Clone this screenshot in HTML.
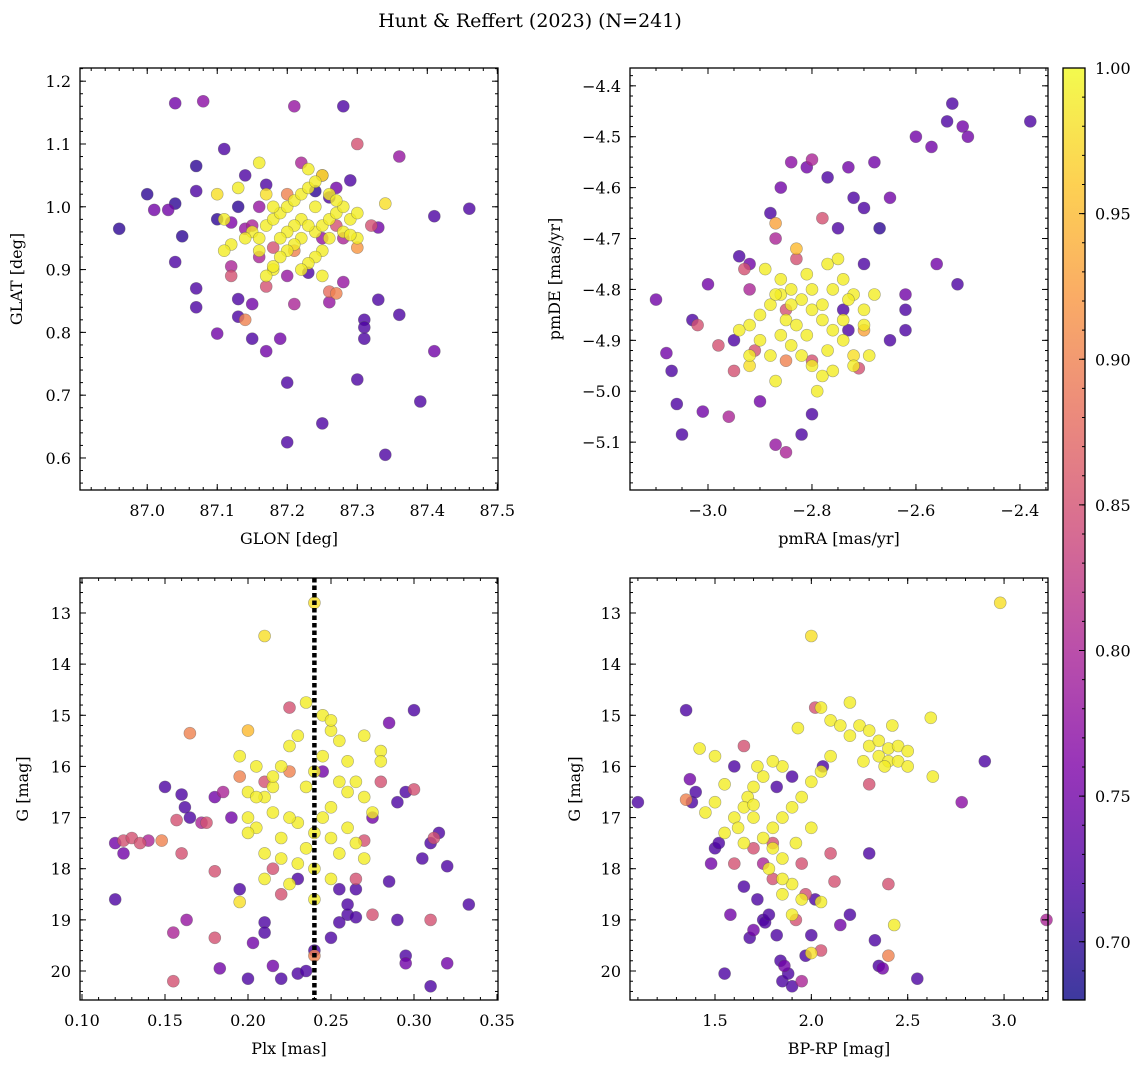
<!DOCTYPE html>
<html><head><meta charset="utf-8"><style>
html,body{margin:0;padding:0;background:#fff}
svg{display:block;font-family:"DejaVu Serif","Liberation Serif",serif}
</style></head><body>
<svg id="fig" width="1148" height="1067" viewBox="0 0 1148 1067" xmlns="http://www.w3.org/2000/svg">
<defs>
<linearGradient id="cbg" x1="0" y1="1" x2="0" y2="0">
<stop offset="0" stop-color="#0d0887"/><stop offset="0.125" stop-color="#4c02a1"/><stop offset="0.25" stop-color="#7e03a8"/><stop offset="0.375" stop-color="#a92395"/><stop offset="0.5" stop-color="#cc4778"/><stop offset="0.625" stop-color="#e66c5c"/><stop offset="0.75" stop-color="#f89540"/><stop offset="0.875" stop-color="#fdc527"/><stop offset="1" stop-color="#f0f921"/>
</linearGradient>
</defs>
<text x="530" y="27" font-size="19" text-anchor="middle">Hunt &amp; Reffert (2023) (N=241)</text>
</svg>
<script>
// ---- data: [x, y, membership probability] ----
const skyPoints = [
[86.96,0.965,0.7],[87.0,1.02,0.7],[87.01,0.995,0.75],[87.03,0.995,0.75],[87.04,1.005,0.7],[87.04,1.165,0.75],[87.05,0.953,0.7],[87.04,0.912,0.72],[87.07,1.065,0.7],[87.08,1.168,0.77],[87.07,1.025,0.72],[87.07,0.87,0.72],[87.07,0.84,0.72],[87.11,1.092,0.72],[87.10,0.98,0.7],[87.10,0.798,0.75],[87.12,0.905,0.8],[87.13,0.825,0.72],[87.13,0.853,0.72],[87.14,0.82,0.9],[87.15,0.79,0.72],[87.15,0.845,0.75],[87.17,0.77,0.75],[87.19,0.79,0.75],[87.2,0.72,0.72],[87.2,0.625,0.72],[87.21,1.16,0.78],[87.25,0.655,0.72],[87.28,1.16,0.72],[87.29,1.042,0.72],[87.3,1.1,0.85],[87.3,0.725,0.72],[87.31,0.82,0.72],[87.31,0.808,0.72],[87.31,0.79,0.72],[87.33,0.852,0.72],[87.34,0.605,0.72],[87.36,1.08,0.78],[87.36,0.828,0.72],[87.39,0.69,0.72],[87.41,0.985,0.72],[87.41,0.77,0.75],[87.46,0.997,0.72],[87.26,0.848,0.78],[87.26,0.865,0.88],[87.27,0.862,0.9],[87.17,0.873,0.85],[87.21,0.845,0.8],[87.28,0.88,0.78],[87.32,0.97,0.85],[87.33,0.967,0.75],[87.3,0.935,0.92],
[87.14,1.05,0.72],[87.17,1.035,0.72],[87.2,1.02,0.9],[87.22,1.07,0.8],[87.25,1.05,0.85],[87.16,1.0,0.78],[87.15,0.97,0.8],[87.14,0.965,0.78],[87.12,0.975,0.76],[87.26,1.015,0.72],[87.27,0.97,0.85],[87.2,0.89,0.78],[87.23,0.895,0.72],[87.28,0.95,0.8],[87.21,0.93,0.9],[87.18,0.935,0.85],[87.24,1.025,0.7],[87.27,1.03,0.75],[87.13,1.0,0.7],[87.12,0.89,0.85],[87.16,0.92,0.8],[87.25,0.95,0.78],
[87.15,0.96,0.99],[87.16,0.95,0.99],[87.17,0.97,0.99],[87.18,0.98,0.99],[87.19,0.99,0.99],[87.2,1.0,0.99],[87.21,1.01,0.99],[87.22,1.02,0.99],[87.23,1.03,0.99],[87.24,1.04,0.99],[87.25,1.05,0.98],[87.23,1.06,0.99],[87.22,0.95,0.99],[87.21,0.94,0.99],[87.2,0.93,0.99],[87.19,0.92,0.99],[87.18,0.9,0.99],[87.17,0.89,0.99],[87.16,0.93,0.99],[87.24,0.96,0.99],[87.25,0.97,0.99],[87.26,0.98,0.99],[87.27,0.99,0.99],[87.28,1.0,0.99],[87.29,0.98,0.99],[87.26,0.95,0.99],[87.25,0.93,0.99],[87.24,0.92,0.99],[87.23,0.91,0.99],[87.22,0.98,0.99],[87.21,0.97,0.99],[87.2,0.96,0.99],[87.19,0.95,0.99],[87.18,1.0,0.99],[87.17,1.02,0.98],[87.16,1.07,0.99],[87.13,1.03,0.99],[87.12,0.94,0.99],[87.11,0.93,0.99],[87.1,1.02,0.98],[87.11,0.98,0.99],[87.14,0.95,0.99],[87.26,1.02,0.99],[87.27,1.01,0.99],[87.28,0.96,0.99],[87.3,0.99,0.99],[87.34,1.005,0.98],[87.3,0.95,0.99],[87.23,0.97,0.99],[87.24,1.0,0.99],[87.18,0.905,0.99],[87.22,0.9,0.99],[87.29,0.955,0.99],[87.25,0.89,0.99]
];
const pmPoints = [
[-3.1,-4.82,0.75],[-3.08,-4.925,0.75],[-3.07,-4.96,0.72],[-3.06,-5.025,0.72],[-3.05,-5.085,0.72],[-3.03,-4.86,0.72],[-3.02,-4.87,0.85],[-3.01,-5.04,0.75],[-3.0,-4.79,0.75],[-2.98,-4.91,0.85],[-2.96,-5.05,0.8],[-2.95,-4.9,0.72],[-2.94,-4.735,0.72],[-2.92,-4.75,0.75],[-2.92,-4.8,0.8],[-2.91,-4.92,0.85],[-2.9,-5.02,0.75],[-2.88,-4.65,0.72],[-2.87,-4.7,0.8],[-2.86,-4.6,0.75],[-2.87,-5.105,0.78],[-2.85,-5.12,0.8],[-2.84,-4.55,0.77],[-2.81,-4.56,0.75],[-2.8,-4.545,0.8],[-2.8,-5.045,0.72],[-2.82,-5.085,0.72],[-2.77,-4.58,0.72],[-2.75,-4.68,0.72],[-2.73,-4.56,0.75],[-2.72,-4.62,0.72],[-2.7,-4.64,0.72],[-2.68,-4.55,0.75],[-2.67,-4.68,0.7],[-2.65,-4.62,0.75],[-2.62,-4.81,0.75],[-2.62,-4.84,0.72],[-2.62,-4.88,0.72],[-2.65,-4.9,0.72],[-2.6,-4.5,0.75],[-2.57,-4.52,0.75],[-2.54,-4.47,0.72],[-2.53,-4.435,0.72],[-2.51,-4.48,0.75],[-2.5,-4.5,0.75],[-2.38,-4.47,0.72],[-2.56,-4.75,0.75],[-2.52,-4.79,0.72],[-2.7,-4.75,0.72],[-2.74,-4.84,0.72],[-2.73,-4.88,0.72],[-2.71,-4.955,0.85],[-2.78,-4.66,0.85],[-2.87,-4.67,0.93],[-2.83,-4.74,0.85],[-2.95,-4.96,0.85],[-2.8,-4.94,0.85],
[-2.93,-4.76,0.85],[-2.85,-4.84,0.85],[-2.7,-4.88,0.93],[-2.83,-4.72,0.95],[-2.85,-4.94,0.9],
[-2.92,-4.87,0.99],[-2.9,-4.85,0.99],[-2.88,-4.83,0.99],[-2.86,-4.81,0.99],[-2.84,-4.8,0.99],[-2.82,-4.82,0.99],[-2.8,-4.84,0.99],[-2.78,-4.86,0.99],[-2.76,-4.88,0.99],[-2.74,-4.9,0.99],[-2.72,-4.93,0.98],[-2.86,-4.89,0.99],[-2.84,-4.91,0.99],[-2.82,-4.93,0.99],[-2.8,-4.95,0.99],[-2.78,-4.97,0.99],[-2.76,-4.8,0.99],[-2.74,-4.78,0.99],[-2.72,-4.81,0.99],[-2.7,-4.84,0.99],[-2.7,-4.87,0.99],[-2.88,-4.93,0.99],[-2.9,-4.9,0.99],[-2.92,-4.93,0.99],[-2.94,-4.88,0.99],[-2.86,-4.78,0.99],[-2.84,-4.83,0.99],[-2.8,-4.8,0.99],[-2.78,-4.83,0.99],[-2.77,-4.75,0.99],[-2.75,-4.74,0.99],[-2.77,-4.92,0.99],[-2.79,-5.0,0.99],[-2.81,-4.89,0.99],[-2.85,-4.86,0.99],[-2.83,-4.87,0.99],[-2.87,-4.98,0.99],[-2.76,-4.96,0.99],[-2.74,-4.86,0.99],[-2.81,-4.77,0.99],[-2.92,-4.95,0.98],[-2.89,-4.76,0.99],[-2.87,-4.81,0.99],[-2.73,-4.82,0.99],[-2.68,-4.81,0.99],[-2.69,-4.93,0.99],[-2.72,-4.95,0.99]
];
const plxPoints = [
[0.12,18.6,0.72],[0.12,17.5,0.75],[0.125,17.7,0.75],[0.125,17.45,0.85],[0.13,17.4,0.85],[0.135,17.5,0.85],[0.14,17.45,0.8],[0.148,17.45,0.9],[0.15,16.4,0.72],[0.155,19.25,0.8],[0.155,20.2,0.85],[0.157,17.05,0.85],[0.16,16.55,0.72],[0.162,16.8,0.72],[0.16,17.7,0.85],[0.163,19.0,0.78],[0.165,15.35,0.9],[0.165,17.0,0.72],[0.172,17.1,0.8],[0.175,17.1,0.85],[0.18,18.05,0.85],[0.18,19.35,0.85],[0.183,19.95,0.75],[0.18,16.6,0.75],[0.185,16.5,0.8],[0.19,17.0,0.75],[0.195,18.4,0.72],[0.2,15.3,0.95],[0.2,20.15,0.72],[0.203,19.45,0.75],[0.21,13.45,0.98],[0.21,19.05,0.72],[0.21,19.25,0.72],[0.215,19.9,0.75],[0.22,20.15,0.72],[0.225,14.85,0.85],[0.23,20.05,0.72],[0.235,20.0,0.72],[0.24,12.8,0.98],[0.24,19.7,0.9],[0.24,19.6,0.72],[0.245,16.1,0.75],[0.25,19.35,0.72],[0.255,18.4,0.72],[0.26,18.9,0.72],[0.265,18.95,0.72],[0.265,18.2,0.85],[0.27,17.45,0.85],[0.275,17.0,0.75],[0.28,16.3,0.85],[0.285,18.25,0.72],[0.285,15.15,0.75],[0.29,16.7,0.72],[0.29,19.0,0.72],[0.295,16.5,0.72],[0.295,19.7,0.72],[0.295,19.85,0.75],[0.3,14.9,0.72],[0.305,17.8,0.72],[0.31,17.5,0.72],[0.312,17.4,0.85],[0.31,19.0,0.85],[0.31,20.3,0.72],[0.315,17.3,0.72],[0.32,17.95,0.72],[0.32,19.85,0.75],[0.333,18.7,0.72],[0.3,16.45,0.85],[0.255,19.05,0.72],[0.26,18.7,0.72],[0.275,18.9,0.85],[0.265,18.4,0.72],[0.22,18.5,0.85],[0.215,18.0,0.85],[0.23,18.2,0.72],[0.21,16.3,0.85],[0.225,16.1,0.9],[0.195,16.2,0.9],
[0.195,15.8,0.99],[0.2,16.5,0.99],[0.205,17.2,0.99],[0.21,17.7,0.99],[0.215,16.4,0.99],[0.22,16.0,0.99],[0.225,15.6,0.99],[0.23,15.4,0.99],[0.235,14.75,0.99],[0.245,15.0,0.99],[0.25,15.3,0.99],[0.255,15.5,0.99],[0.26,15.9,0.99],[0.265,16.3,0.99],[0.27,16.6,0.99],[0.275,16.9,0.99],[0.25,16.8,0.99],[0.245,17.0,0.99],[0.24,17.3,0.99],[0.235,17.6,0.99],[0.23,17.1,0.99],[0.225,17.0,0.99],[0.22,17.4,0.99],[0.215,16.9,0.99],[0.21,16.6,0.99],[0.205,16.0,0.99],[0.2,17.0,0.99],[0.2,17.3,0.99],[0.195,18.65,0.98],[0.21,18.2,0.99],[0.225,18.3,0.99],[0.23,17.9,0.99],[0.24,18.0,0.99],[0.25,18.2,0.99],[0.255,17.7,0.99],[0.26,17.2,0.99],[0.265,17.5,0.99],[0.27,17.8,0.99],[0.28,15.7,0.99],[0.28,15.9,0.99],[0.27,15.4,0.99],[0.255,16.3,0.99],[0.26,16.5,0.99],[0.25,17.4,0.99],[0.245,15.8,0.99],[0.24,16.1,0.99],[0.235,16.4,0.99],[0.22,17.8,0.99],[0.215,16.2,0.99],[0.205,16.6,0.99],[0.25,15.1,0.99],[0.24,18.6,0.99]
];
const cmdPoints = [
[1.1,16.7,0.72],[1.35,14.9,0.72],[1.37,16.25,0.75],[1.38,16.7,0.72],[1.4,16.5,0.72],[1.35,16.65,0.9],[1.48,17.9,0.75],[1.5,17.6,0.72],[1.52,17.5,0.72],[1.55,20.05,0.72],[1.58,18.9,0.75],[1.6,17.9,0.85],[1.65,18.35,0.72],[1.68,19.35,0.72],[1.7,19.2,0.75],[1.72,18.6,0.72],[1.75,19.0,0.72],[1.76,19.05,0.72],[1.78,18.9,0.72],[1.8,18.2,0.85],[1.82,19.3,0.72],[1.84,19.8,0.72],[1.85,20.2,0.72],[1.86,19.9,0.75],[1.88,20.05,0.72],[1.9,20.3,0.72],[1.92,19.0,0.85],[1.95,20.2,0.8],[1.97,19.7,0.72],[2.0,19.3,0.72],[2.02,18.6,0.72],[2.05,19.6,0.85],[2.1,17.7,0.85],[2.12,18.25,0.85],[2.15,19.1,0.75],[2.2,18.9,0.72],[2.3,17.7,0.72],[2.33,19.4,0.72],[2.35,19.9,0.72],[2.37,19.95,0.75],[2.4,18.3,0.85],[2.4,19.7,0.9],[2.55,20.15,0.72],[2.9,15.9,0.72],[2.78,16.7,0.77],[3.22,19.0,0.8],[2.02,14.85,0.85],[1.65,15.6,0.85],[1.6,16.0,0.72],[1.82,16.4,0.72],[1.9,16.2,0.72],[2.06,16.0,0.72],[2.3,16.35,0.85],[1.7,17.6,0.85],[1.75,17.9,0.8],[1.8,17.5,0.85],[1.95,17.9,0.85],[1.97,18.5,0.85],
[2.1,15.1,0.99],[2.15,15.2,0.99],[2.2,14.75,0.99],[2.25,15.2,0.99],[2.3,15.3,0.99],[2.3,15.6,0.99],[2.35,15.8,0.99],[2.35,15.5,0.99],[2.4,15.65,0.99],[2.4,15.9,0.99],[2.45,15.6,0.99],[2.45,15.9,0.99],[2.42,15.2,0.99],[2.5,15.7,0.99],[2.5,16.0,0.99],[2.27,15.9,0.99],[2.2,15.4,0.99],[2.1,15.8,0.99],[2.62,15.05,0.99],[2.63,16.2,0.99],[2.38,16.0,0.99],[2.05,14.85,0.99],[2.0,13.45,0.98],[2.98,12.8,0.98],[1.93,15.25,0.99],[1.85,16.0,0.99],[1.8,15.9,0.99],[1.75,16.2,0.99],[1.7,16.4,0.99],[1.67,16.6,0.99],[1.65,16.8,0.99],[1.6,17.0,0.99],[1.55,17.3,0.99],[1.5,16.7,0.99],[1.45,16.9,0.99],[1.42,15.65,0.99],[1.5,15.8,0.99],[1.55,16.35,0.99],[1.62,17.2,0.99],[1.7,17.0,0.99],[1.75,17.4,0.99],[1.8,17.6,0.99],[1.85,17.8,0.99],[1.8,17.2,0.99],[1.85,17.0,0.99],[1.9,16.8,0.99],[1.95,16.6,0.99],[2.0,16.3,0.99],[2.05,16.1,0.99],[1.78,18.0,0.99],[1.85,18.5,0.99],[1.9,18.9,0.99],[1.95,18.6,0.99],[2.0,17.2,0.99],[1.92,17.5,0.99],[1.7,16.75,0.99],[1.65,17.5,0.99],[1.72,16.0,0.99],[2.05,18.65,0.99],[2.43,19.1,0.99],[2.0,19.65,0.98],[1.9,18.3,0.99],[1.85,18.2,0.99]
];
const plxCut = 0.24;
const cbTicks = [0.70,0.75,0.80,0.85,0.90,0.95,1.00];
const cbMin = 0.68, cbMax = 1.0;

const NS = "http://www.w3.org/2000/svg";
const svg = document.getElementById('fig');
function mk(tag, attrs, parent){const e=document.createElementNS(NS,tag);for(const k in attrs)e.setAttribute(k,attrs[k]);(parent||svg).appendChild(e);return e;}
const stops=[[0,[13,8,135]],[0.125,[76,2,161]],[0.25,[126,3,168]],[0.375,[169,35,149]],[0.5,[204,71,120]],[0.625,[230,108,92]],[0.75,[248,149,64]],[0.875,[253,197,39]],[1,[240,249,33]]];
function plasma(p){let t=Math.max(0,Math.min(1,(p-cbMin)/(cbMax-cbMin)));for(let i=1;i<stops.length;i++){if(t<=stops[i][0]){const a=stops[i-1],b=stops[i];const f=(t-a[0])/(b[0]-a[0]);const c=a[1].map((v,j)=>Math.round(v+(b[1][j]-v)*f));return `rgb(${c[0]},${c[1]},${c[2]})`;}}return 'rgb(240,249,33)';}
function fmt(v,d){return v.toFixed(d).replace('-','\u2212');}

function panel(cfg){
  const g=mk('g',{});
  
  
  const {x0,y0,w,h,xmin,xmax,ymin,ymax}=cfg;
  const sx=v=>x0+(v-xmin)/(xmax-xmin)*w;
  const sy=v=>cfg.invert? y0+(v-ymin)/(ymax-ymin)*h : y0+h-(v-ymin)/(ymax-ymin)*h;
  const pts=cfg.data.slice().sort((a,b)=>a[2]-b[2]);
  const pg=mk('g',{},g);
  
  
  for(const d of pts){
    const c=mk('circle',{cx:sx(d[0]).toFixed(1),cy:sy(d[1]).toFixed(1),r:6,fill:plasma(d[2]),'fill-opacity':0.8,stroke:'#555','stroke-opacity':0.5,'stroke-width':0.6},pg);
    
    
  }
  if(cfg.vline!==undefined){
    const l=mk('line',{x1:sx(cfg.vline),x2:sx(cfg.vline),y1:y0,y2:y0+h,stroke:'#000','stroke-width':4.5,'stroke-dasharray':'4.5,3'},g);
    
    
  }
  const fr=mk('rect',{x:x0,y:y0,width:w,height:h,fill:'none',stroke:'#000','stroke-width':1.3},g);
  
  
  const tg=mk('g',{stroke:'#000','stroke-width':1},g);
  // minor ticks
  const eps=1e-9;
  for(let v=Math.ceil(xmin/cfg.xminor-eps)*cfg.xminor; v<=xmax+eps; v+=cfg.xminor){const X=sx(v);mk('line',{x1:X,x2:X,y1:y0+h,y2:y0+h-3},tg);mk('line',{x1:X,x2:X,y1:y0,y2:y0+3},tg);}
  for(let v=Math.ceil(ymin/cfg.yminor-eps)*cfg.yminor; v<=ymax+eps; v+=cfg.yminor){const Y=sy(v);mk('line',{x1:x0,x2:x0+3,y1:Y,y2:Y},tg);mk('line',{x1:x0+w,x2:x0+w-3,y1:Y,y2:Y},tg);}
  for(const v of cfg.xticks){const X=sx(v);mk('line',{x1:X,x2:X,y1:y0+h,y2:y0+h-6},tg);mk('line',{x1:X,x2:X,y1:y0,y2:y0+6},tg);
    const t=mk('text',{x:X,y:y0+h+26,'font-size':16,'text-anchor':'middle'},g);t.textContent=fmt(v,cfg.xdec);
    
    }
  for(const v of cfg.yticks){const Y=sy(v);mk('line',{x1:x0,x2:x0+6,y1:Y,y2:Y},tg);mk('line',{x1:x0+w,x2:x0+w-6,y1:Y,y2:Y},tg);
    const t=mk('text',{x:x0-9,y:Y+6,'font-size':16,'text-anchor':'end'},g);t.textContent=fmt(v,cfg.ydec);
    
    }
  const xl=mk('text',{x:x0+w/2,y:y0+h+54,'font-size':16,'text-anchor':'middle'},g);xl.textContent=cfg.xlabel;
  
  
  const yx=cfg.ylx, yc=y0+h/2;
  const yl=mk('text',{x:yx,y:yc,'font-size':16,'text-anchor':'middle',transform:`rotate(-90 ${yx} ${yc})`},g);yl.textContent=cfg.ylabel;
  
  
}
function range(a,b,s){const r=[];for(let v=a;v<=b+1e-9;v+=s)r.push(Math.round(v*1000)/1000);return r;}

panel({name:'sky-position-panel',data:skyPoints,x0:80,y0:68,w:418,h:422,xmin:86.904,xmax:87.501,ymin:0.549,ymax:1.221,
 xticks:range(87.0,87.5,0.1),yticks:range(0.6,1.2,0.1),xminor:0.02,yminor:0.02,xdec:1,ydec:1,xlabel:'GLON [deg]',ylabel:'GLAT [deg]',ylx:22});
panel({name:'proper-motion-panel',data:pmPoints,x0:630,y0:68,w:418,h:422,xmin:-3.15,xmax:-2.346,ymin:-5.194,ymax:-4.365,
 xticks:[-3.0,-2.8,-2.6,-2.4],yticks:range(-5.1,-4.4,0.1),xminor:0.05,yminor:0.02,xdec:1,ydec:1,xlabel:'pmRA [mas/yr]',ylabel:'pmDE [mas/yr]',ylx:560});
panel({name:'parallax-magnitude-panel',data:plxPoints,x0:80,y0:578,w:418,h:422,xmin:0.0988,xmax:0.3506,ymin:12.316,ymax:20.567,invert:true,vline:plxCut,
 xticks:range(0.10,0.35,0.05),yticks:range(13,20,1),xminor:0.01,yminor:0.2,xdec:2,ydec:0,xlabel:'Plx [mas]',ylabel:'G [mag]',ylx:28});
panel({name:'color-magnitude-panel',data:cmdPoints,x0:630,y0:578,w:418,h:422,xmin:1.059,xmax:3.228,ymin:12.316,ymax:20.567,invert:true,
 xticks:[1.5,2.0,2.5,3.0],yticks:range(13,20,1),xminor:0.1,yminor:0.2,xdec:1,ydec:0,xlabel:'BP-RP [mag]',ylabel:'G [mag]',ylx:580});

// colorbar
(function(){
  const x0=1063,y0=68,w=22,h=932;
  const g=mk('g',{});
  
  
  mk('rect',{x:x0,y:y0,width:w,height:h,fill:'url(#cbg)','fill-opacity':0.8},g);
  mk('rect',{x:x0,y:y0,width:w,height:h,fill:'none',stroke:'#000','stroke-width':1.3},g);
  const sy=v=>y0+h-(v-cbMin)/(cbMax-cbMin)*h;
  for(let v=0.68;v<=1.0001;v+=0.01){const Y=sy(v);mk('line',{x1:x0+w,x2:x0+w-3,y1:Y,y2:Y,stroke:'#000'},g);}
  for(const v of cbTicks){const Y=sy(v);mk('line',{x1:x0+w,x2:x0+w-6,y1:Y,y2:Y,stroke:'#000'},g);
    const t=mk('text',{x:x0+w+10,y:Y+6,'font-size':16},g);t.textContent=v.toFixed(2);
    
    }
})();
</script>
</body></html>
